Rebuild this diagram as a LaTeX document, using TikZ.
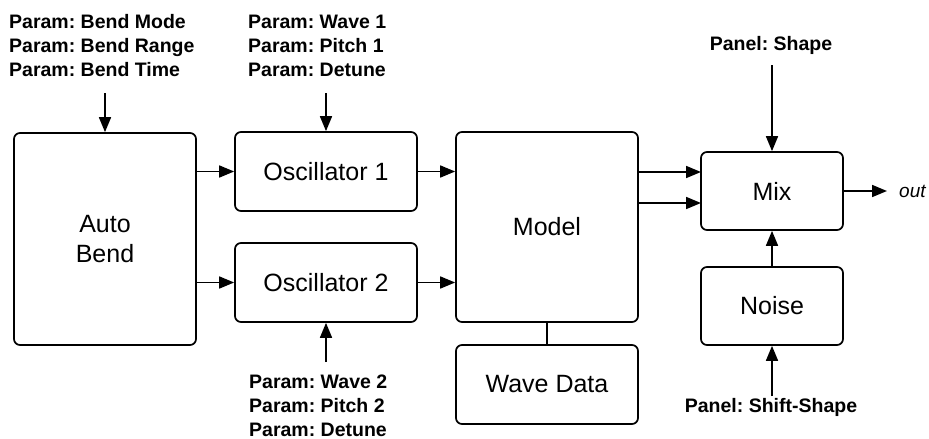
\documentclass[tikz,border=0pt]{standalone}
\usepackage{fontspec}
\setmainfont{Liberation Sans}
\usetikzlibrary{arrows.meta}
\frenchspacing
\begin{document}
\begin{tikzpicture}[x=1pt,y=-1pt,
  box/.style={draw,line width=1.7pt,rounded corners=6pt,inner sep=0pt,align=center,font=\fontsize{25}{30}\selectfont},
  param/.style={inner sep=0pt,align=left,font=\fontsize{19.5}{24}\selectfont\bfseries},
  arr/.style={line width=1.7pt,-{Triangle[length=15pt,width=12pt]}},
  link/.style={line width=1.7pt}]
\useasboundingbox (0,0) rectangle (929,439);
% boxes
\node[box,minimum width=182pt,minimum height=212pt] (autob) at (105,239) {Auto\\Bend};
\node[box,minimum width=182pt,minimum height=79pt] (osc1) at (326,171.5) {Oscillator 1};
\node[box,minimum width=182pt,minimum height=79pt] (osc2) at (326,282.5) {Oscillator 2};
\node[box,minimum width=182pt,minimum height=190pt] (model) at (547,227) {Model};
\node[box,minimum width=182pt,minimum height=79pt] (wave) at (547,384.5) {Wave Data};
\node[box,minimum width=142pt,minimum height=78pt] (mix) at (772,191) {Mix};
\node[box,minimum width=142pt,minimum height=78pt] (noise) at (772,306) {Noise};
% labels
\node[param,anchor=west] (bendp) at (9,46) {Param: Bend Mode\\Param: Bend Range\\Param: Bend Time};
\node[param,anchor=west] (osc1p) at (248,46) {Param: Wave 1\\Param: Pitch 1\\Param: Detune};
\node[param,anchor=west] (osc2p) at (249,406) {Param: Wave 2\\Param: Pitch 2\\Param: Detune};
\node[param] (shape) at (771,45) {Panel: Shape};
\node[param] (shift) at (771,407) {Panel: Shift-Shape};
\node[inner sep=0pt,anchor=west,font=\fontsize{19}{22}\selectfont\itshape] (out) at (899,191) {out};
% helper coordinates
\coordinate (bendin) at (105,93);
\coordinate (osc1in) at (326,93);
\coordinate (osc2in) at (326,362);
\coordinate (shapein) at (772,65);
\coordinate (shiftin) at (772,396);
\coordinate (mixin1) at (701,172);
\coordinate (mixin2) at (701,203);
% connectors
\draw[arr] (bendin) -- (autob.north);
\draw[arr] (osc1in) -- (osc1.north);
\draw[arr] (osc2in) -- (osc2.south);
\draw[arr] (autob.east |- osc1.west) -- (osc1.west);
\draw[arr] (autob.east |- osc2.west) -- (osc2.west);
\draw[arr] (osc1.east) -- (osc1.east -| model.west);
\draw[arr] (osc2.east) -- (osc2.east -| model.west);
\draw[link] (model.south) -- (wave.north);
\draw[arr] (model.east |- mixin1) -- (mixin1);
\draw[arr] (model.east |- mixin2) -- (mixin2);
\draw[arr] (shapein) -- (mix.north);
\draw[arr] (noise.north) -- (mix.south);
\draw[arr] (shiftin) -- (noise.south);
\draw[arr] (mix.east) -- ([xshift=-12pt]out.west);
\end{tikzpicture}
\end{document}
